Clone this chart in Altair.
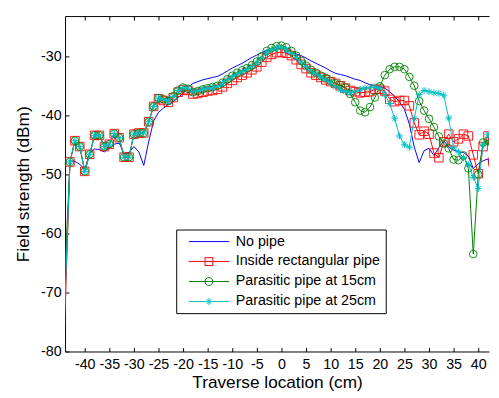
import altair as alt
import pandas as pd

# first sample lies just left of the visible axis range
x_cm = [-45] + list(range(-43, 44))

no_pipe = [
    -92.3, -47.7, -47.8, -48.3, -49.2, -46.4, -45.7, -45.8,
    -46.2, -45.5, -44.9, -44.7, -46.5, -46.3, -45.3, -46.2,
    -48.5, -44.5, -41.0, -39.5, -38.8, -38.2, -37.7, -37.0,
    -36.3, -35.3, -34.6, -34.3, -34.0, -33.8, -33.6, -33.4,
    -33.0, -32.5, -32.0, -31.6, -31.2, -30.7, -30.2, -29.8,
    -29.4, -29.0, -28.8, -28.6, -28.6, -28.9, -29.2, -29.6,
    -29.9, -30.3, -30.8, -31.2, -31.6, -32.0, -32.5, -32.9,
    -33.1, -33.3, -33.6, -33.9, -34.1, -34.5, -34.8, -35.0,
    -35.2, -35.4, -36.0, -36.8, -37.7, -39.0, -41.5, -45.4,
    -48.0, -46.0, -45.6, -46.8, -45.5, -44.3, -45.4, -45.9,
    -46.2, -46.3, -46.9, -49.0, -48.2, -47.7, -47.4, -51.0,
]

inside_rect = [
    -99.1, -47.9, -44.3, -45.3, -49.5, -46.6, -43.4, -43.4,
    -45.3, -44.9, -43.1, -43.8, -47.1, -47.1, -43.2, -43.0,
    -43.0, -41.1, -38.5, -37.2, -37.5, -37.8, -37.0, -36.1,
    -35.7, -35.8, -36.4, -36.3, -36.1, -35.9, -35.8, -35.6,
    -35.2, -34.6, -34.1, -33.6, -33.2, -32.8, -32.3, -31.8,
    -31.0, -30.2, -29.7, -29.4, -29.3, -29.5, -29.9, -30.6,
    -31.4, -32.1, -32.8, -33.2, -33.6, -34.0, -34.3, -34.6,
    -35.0, -35.4, -35.8, -36.0, -36.2, -36.1, -36.0, -35.6,
    -35.6, -35.9, -37.3, -37.7, -37.5, -37.5, -38.4, -41.3,
    -43.3, -42.7, -43.2, -46.4, -47.2, -44.5, -43.2, -44.5,
    -44.0, -43.2, -43.5, -46.7, -49.9, -45.3, -43.5, -47.9,
]

parasitic_15 = [
    -84.1, -47.9, -44.3, -45.3, -49.5, -46.6, -43.4, -43.4,
    -45.3, -44.9, -43.1, -43.8, -47.1, -47.1, -43.2, -43.0,
    -43.0, -41.1, -38.5, -37.1, -37.3, -37.6, -36.8, -35.8,
    -35.3, -35.5, -36.1, -35.9, -35.6, -35.4, -35.2, -35.0,
    -34.5, -33.9, -33.3, -32.8, -32.4, -32.0, -31.5, -30.9,
    -30.0, -29.1, -28.6, -28.3, -28.2, -28.5, -29.1, -29.9,
    -30.8, -31.6, -32.3, -32.8, -33.3, -33.7, -34.2, -34.6,
    -34.9, -35.3, -36.4, -37.8, -39.2, -39.5, -38.6, -37.0,
    -35.1, -33.2, -32.2, -31.8, -31.8, -32.2, -33.5, -35.0,
    -37.6, -39.2, -40.6, -42.0, -43.6, -44.8, -45.6, -47.5,
    -47.6, -46.8, -49.0, -63.5, -50.0, -44.6, -44.3, -48.0,
]

parasitic_25 = [
    -94.1, -47.9, -44.3, -45.3, -49.5, -46.6, -43.4, -43.4,
    -45.3, -44.9, -43.1, -43.8, -47.1, -47.1, -43.2, -43.0,
    -43.0, -41.1, -38.5, -37.1, -37.3, -37.6, -36.8, -35.8,
    -35.3, -35.4, -36.0, -35.8, -35.6, -35.4, -35.3, -35.1,
    -34.6, -34.0, -33.5, -33.0, -32.6, -32.2, -31.7, -31.1,
    -30.3, -29.4, -28.9, -28.6, -28.5, -28.9, -29.5, -30.2,
    -31.0, -31.8, -32.5, -33.0, -33.5, -34.0, -34.5, -35.2,
    -35.7, -36.0, -36.2, -36.0, -35.6, -35.4, -35.3, -35.2,
    -35.4, -36.5, -38.0, -40.5, -43.5, -45.0, -45.4, -40.5,
    -36.5, -35.8, -36.0, -36.2, -36.3, -36.6, -40.5, -45.5,
    -46.2, -47.2, -48.3, -50.5, -52.4, -45.0, -43.2, -45.0,
]

series_names = ["No pipe", "Inside rectangular pipe",
                "Parasitic pipe at 15cm", "Parasitic pipe at 25cm"]
series_colors = ["#0000FF", "#FF0000", "#008000", "#00BFBF"]
x_ticks = list(range(-40, 45, 5))
y_ticks = [-80, -70, -60, -50, -40, -30]

rows = []
for name, vals in zip(series_names, [no_pipe, inside_rect, parasitic_15, parasitic_25]):
    for xv, yv in zip(x_cm, vals):
        rows.append({"x": xv, "y": yv, "series": name})
df = pd.DataFrame(rows)

W, H = 431, 341
FONT = "Liberation Sans"
xs = alt.Scale(domain=[-44, 42.2], nice=False, zero=False)
ys = alt.Scale(domain=[-80, -23.2], nice=False, zero=False)
minus_fix = "datum.value < 0 ? '-' + abs(datum.value) : '' + datum.value"

main_x = alt.Axis(values=x_ticks, ticks=False, grid=False, domain=True,
                  domainColor="black", domainWidth=1, labelFont=FONT,
                  labelFontSize=14.5, labelColor="black", labelPadding=6,
                  labelExpr=minus_fix, labelFlush=False,
                  title="Traverse location (cm)", titleFont=FONT,
                  titleFontSize=17.5, titleFontWeight="normal",
                  titleColor="black", titlePadding=3)
main_y = alt.Axis(values=y_ticks, ticks=False, grid=False, domain=True,
                  domainColor="black", domainWidth=1, labelFont=FONT,
                  labelFontSize=14.5, labelColor="black", labelPadding=4,
                  labelExpr=minus_fix, labelFlush=False,
                  title="Field strength (dBm)", titleFont=FONT,
                  titleFontSize=17.5, titleFontWeight="normal",
                  titleColor="black", titlePadding=8)
tick_bottom = alt.Axis(orient="top", offset=-H, values=x_ticks, labels=False,
                       domain=False, ticks=True, tickSize=4, tickColor="black",
                       grid=False, title=None)
tick_top = alt.Axis(orient="bottom", offset=-H, values=x_ticks, labels=False,
                    domain=True, domainColor="black", domainWidth=1,
                    ticks=True, tickSize=4, tickColor="black", grid=False,
                    title=None)
tick_left = alt.Axis(orient="right", offset=-W, values=y_ticks, labels=False,
                     domain=False, ticks=True, tickSize=4, tickColor="black",
                     grid=False, title=None)

base = alt.Chart(df)


def sub(name):
    return base.transform_filter(alt.datum.series == name)


def enc(xaxis=None, yaxis=None):
    return dict(x=alt.X("x:Q", scale=xs, axis=xaxis),
                y=alt.Y("y:Q", scale=ys, axis=yaxis))


blue_line = sub(series_names[0]).mark_line(
    color=series_colors[0], strokeWidth=1, clip=True).encode(**enc(main_x, main_y))
red_line = sub(series_names[1]).mark_line(
    color=series_colors[1], strokeWidth=1, clip=True).encode(**enc(tick_bottom, tick_left))
red_pts = sub(series_names[1]).mark_point(
    shape="square", filled=False, size=75, color=series_colors[1],
    strokeWidth=0.9, opacity=1, clip=True).encode(**enc())
green_line = sub(series_names[2]).mark_line(
    color=series_colors[2], strokeWidth=1, clip=True).encode(**enc(tick_top, None))
green_pts = sub(series_names[2]).mark_point(
    shape="circle", filled=False, size=60, color=series_colors[2],
    strokeWidth=0.9, opacity=1, clip=True).encode(**enc())
cyan_line = sub(series_names[3]).mark_line(
    color=series_colors[3], strokeWidth=1, clip=True).encode(**enc())
asterisk = "M-1,0H1M0,-1V1M-0.7,-0.7L0.7,0.7M-0.7,0.7L0.7,-0.7"
cyan_pts = sub(series_names[3]).mark_point(
    shape=asterisk, filled=False, size=49, color=series_colors[3],
    strokeWidth=1, opacity=1, clip=True).encode(**enc())

legend_shapes = [
    "M-5.1,0H5.1",
    "M-5.1,0H5.1M-1,-1H1V1H-1Z",
    "M-5.1,0H5.1M1,0A1,1,0,1,1,-1,0A1,1,0,1,1,1,0Z",
    "M-5.1,0H5.1M0,-0.9V0.9M-0.65,-0.65L0.65,0.65M-0.65,0.65L0.65,-0.65",
]
leg = dict(title=None, orient="none", legendX=113, legendY=217)
legend_layer = base.transform_filter("false").mark_point(
    filled=False, opacity=1, strokeWidth=1).encode(
    **enc(),
    color=alt.Color("series:N", scale=alt.Scale(domain=series_names, range=series_colors),
                    legend=alt.Legend(**leg)),
    shape=alt.Shape("series:N", scale=alt.Scale(domain=series_names, range=legend_shapes),
                    legend=alt.Legend(**leg)),
)

chart = alt.layer(
    blue_line, red_line, red_pts, green_line, green_pts, cyan_line, cyan_pts, legend_layer
).resolve_axis(x="independent", y="independent").properties(
    width=W, height=H,
    autosize=alt.AutoSizeParams(type="none"),
    padding={"left": 58, "top": 5, "right": 2, "bottom": 40},
    background="white",
).configure_view(stroke=None).configure_legend(
    strokeColor="black", fillColor="white", padding=5, cornerRadius=0,
    labelFont=FONT, labelFontSize=14.5, labelColor="black",
    symbolStrokeWidth=1, symbolSize=64, symbolOffset=21, labelOffset=20,
    rowPadding=5.3,
)

chart.save("out.html", embed_options={"renderer": "svg", "actions": False})
